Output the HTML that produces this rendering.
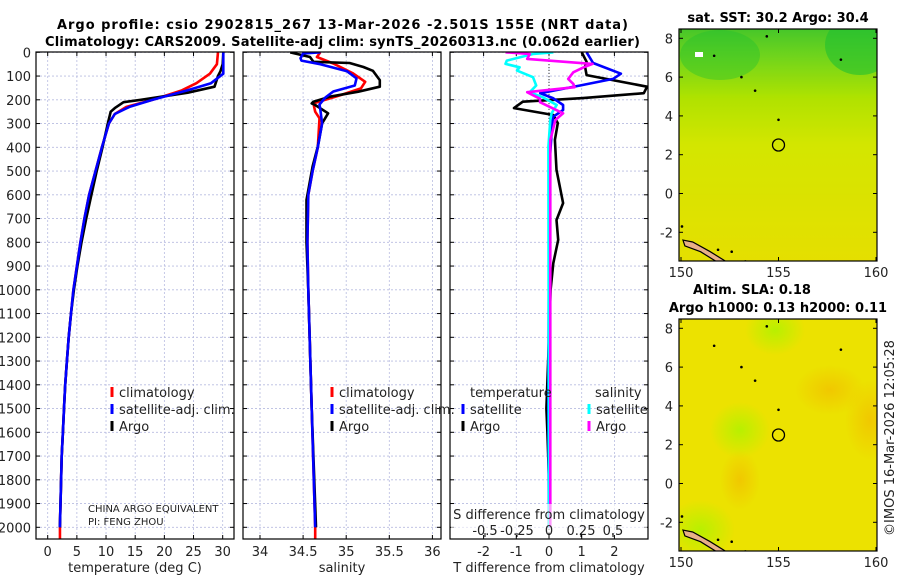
<!DOCTYPE html>
<html><head><meta charset="utf-8"><style>
html,body{margin:0;padding:0;background:#fff;}
svg{display:block;font-family:"DejaVu Sans","Liberation Sans",sans-serif;}
</style></head><body>
<svg id="fig" width="900" height="580" viewBox="0 0 900 580" xmlns="http://www.w3.org/2000/svg">
<defs>
<linearGradient id="sstGrad" x1="0" y1="0" x2="0" y2="1">
<stop offset="0" stop-color="#30c830"/><stop offset="0.12" stop-color="#60d820"/><stop offset="0.3" stop-color="#a8e800"/><stop offset="0.5" stop-color="#d0ec00"/><stop offset="1" stop-color="#e4e400"/>
</linearGradient>
<radialGradient id="slaGreen" cx="0.5" cy="0.5" r="0.5"><stop offset="0" stop-color="#b8f000"/><stop offset="1" stop-color="#b8f000" stop-opacity="0"/></radialGradient>
<radialGradient id="slaOrange" cx="0.5" cy="0.5" r="0.5"><stop offset="0" stop-color="#f0c800"/><stop offset="1" stop-color="#f0c800" stop-opacity="0"/></radialGradient>
<clipPath id="c1"><rect x="36" y="52" width="198" height="487"/></clipPath>
<clipPath id="c2"><rect x="243" y="52" width="198" height="487"/></clipPath>
<clipPath id="c3"><rect x="450" y="52" width="198" height="487"/></clipPath>
<clipPath id="m1"><rect x="679" y="29" width="198" height="232"/></clipPath>
<clipPath id="m2"><rect x="679" y="319" width="198" height="232"/></clipPath>
</defs>
<text x="57" y="29" textLength="571" lengthAdjust="spacing" font-size="13" font-weight="bold">Argo profile: csio 2902815_267 13-Mar-2026 -2.501S 155E (NRT data)</text>
<text x="45" y="46" textLength="595" lengthAdjust="spacing" font-size="13" font-weight="bold">Climatology: CARS2009. Satellite-adj clim: synTS_20260313.nc (0.062d earlier)</text>
<text x="778" y="22" text-anchor="middle" font-size="13" font-weight="bold">sat. SST: 30.2 Argo: 30.4</text>
<text x="752" y="294" text-anchor="middle" font-size="13" font-weight="bold">Altim. SLA: 0.18</text>
<text x="778" y="312" text-anchor="middle" font-size="13" font-weight="bold">Argo h1000: 0.13 h2000: 0.11</text>
<text transform="translate(894,438) rotate(-90)" text-anchor="middle" font-size="13" fill="#222">©IMOS 16-Mar-2026 12:05:28</text>
<g id="g"></g>
</svg>
<script>
// ---- data (depth in dbar) ----
const tDepth = [0,50,90,130,160,200,230,260,300,400,500,600,700,800,900,1000,1100,1200,1300,1400,1500,1600,1700,1800,1900,2000];
const tClim =  [29.2,29.0,27.8,25.5,23,18,13.5,11.5,10.5,9.3,8.2,7.1,6.3,5.6,5.0,4.4,4.0,3.6,3.3,3.0,2.8,2.6,2.4,2.3,2.2,2.1];
const tSat =   [30.1,30.1,30.1,28,24,18,14,11.5,10.5,9.3,8.2,7.1,6.3,5.6,5.0,4.4,4.0,3.6,3.3,3.0,2.8,2.6,2.4,2.3,2.2,2.1];
const argoTDepth = [0,50,80,100,145,170,200,210,235,250,300,400,500,600,700,800,900,1000,1100,1200,1300,1400,1500,1600,1700,1800,1900,2000];
const tArgo = [30.1,30.0,29.6,29.2,28.6,24,16,13,11.5,10.8,10.3,9.4,8.4,7.5,6.6,5.8,5.1,4.5,4.0,3.6,3.3,3.0,2.8,2.6,2.4,2.3,2.2,2.1];

const sClimDepth = [0,20,47,89,124,152,180,215,250,278,400,500,600,800,1000,1500,2000,2050];
const sClim = [34.70,34.66,34.85,35.08,35.22,35.17,34.94,34.62,34.64,34.69,34.67,34.61,34.56,34.55,34.56,34.60,34.64,34.64];
const sSatDepth = [0,5,25,35,50,80,110,140,165,190,220,240,300,400,500,600,800,1000,1500,2000];
const sSat = [34.70,34.50,34.47,34.48,34.70,35.01,35.12,35.10,34.85,34.76,34.69,34.70,34.72,34.67,34.61,34.56,34.55,34.56,34.60,34.64];
const sArgoDepth = [0,20,40,45,62,78,117,145,166,187,208,215,222,257,299,397,481,622,800,1000,1500,2000];
const sArgo = [34.35,34.58,34.62,35.04,35.20,35.31,35.39,35.39,35.14,34.81,34.62,34.60,34.64,34.79,34.72,34.67,34.61,34.54,34.54,34.56,34.60,34.65];

const dTSatDepth = [0,45,90,112,140,172,193,222,243,272,340,440,800,1500,2000];
const dTSat = [1.15,1.35,2.2,1.96,0.95,-0.27,0.12,0.43,0.43,0.12,0.08,0.03,0.0,-0.02,0.0];
const dTArgoDepth = [0,40,60,96,145,172,193,208,235,264,298,369,495,635,706,790,888,1000,1200,1500,1600,1800,2000];
const dTArgo = [1.0,1.15,1.1,1.15,3.0,2.9,1.04,-0.8,-1.07,0.13,0.27,0.18,0.23,0.43,0.23,0.28,0.13,0.05,0.0,-0.08,-0.05,0.0,0.0];
const dSSatDepth = [0,7,35,49,63,77,105,140,168,189,222,257,285,397,2000];
const dSSat = [0.034,-0.125,-0.33,-0.34,-0.23,-0.25,-0.125,-0.1,-0.15,-0.05,0.06,0.02,0.01,-0.005,0.0];
const dSArgoDepth = [0,7,28,49,63,84,112,133,147,168,196,210,257,285,370,2000];
const dSArgo = [-0.34,-0.15,-0.17,0.34,0.27,0.19,0.15,0.19,0.2,-0.17,-0.07,-0.07,0.11,0.05,0.01,0.01];

const depthTicks = [0,100,200,300,400,500,600,700,800,900,1000,1100,1200,1300,1400,1500,1600,1700,1800,1900,2000];
const tTicks = [0,5,10,15,20,25,30];
const sTicks = [34,34.5,35,35.5,36];
const sTickLabels = ["34","34.5","35","35.5","36"];
const dTTicks = [-2,-1,0,1,2];
const dSTicks = [-0.5,-0.25,0,0.25,0.5];
const dSTickLabels = ["-0.5","-0.25","0","0.25","0.5"];
const latTicks = [8,6,4,2,0,-2];
const lonTicks = [150,155,160];
const floatLon = 155.0, floatLat = 2.5;

// ---- axis functions ----
const yD = d => 52.3 + d*0.2375;
const xT = t => 47.7 + t*5.833;
const xS = s => 260 + (s-34)*86.2;
const xDT = v => 549 + v*32.7;
const xDS = v => 549 + v*128;
const mapX = lon => 681 + (lon-150)*19.5;
const map1Y = lat => 38.3 + (8-lat)*19.4;
const map2Y = lat => 328.3 + (8-lat)*19.4;

const NS="http://www.w3.org/2000/svg";
const G=document.getElementById('g');
function mk(tag,attrs,parent){const e=document.createElementNS(NS,tag);for(const k in attrs)e.setAttribute(k,attrs[k]);(parent||G).appendChild(e);return e;}
function txt(x,y,s,size,anchor,parent){const e=mk('text',{x:x,y:y,'font-size':size,'text-anchor':anchor||'start',fill:'#222'},parent);e.textContent=s;return e;}

const panels=[{x:36,w:198,clip:'c1',name:'temperature-panel'},{x:243,w:198,clip:'c2',name:'salinity-panel'},{x:450,w:198,clip:'c3',name:'difference-panel'}];
const pTop=52, pBot=539;
panels.forEach((p,i)=>{
  const g=mk('g',{});
  
  
  p.g=g;
  depthTicks.forEach(d=>{
    mk('line',{x1:p.x,x2:p.x+p.w,y1:yD(d),y2:yD(d),stroke:'#b8bce0','stroke-width':0.8,'stroke-dasharray':'2,2'},g);
    mk('line',{x1:p.x,x2:p.x+4,y1:yD(d),y2:yD(d),stroke:'#000'},g);
    mk('line',{x1:p.x+p.w-4,x2:p.x+p.w,y1:yD(d),y2:yD(d),stroke:'#000'},g);
  });
});
depthTicks.forEach(d=>{const e=txt(31,yD(d)+5,String(d),13,'end');
  
  });
function vgrid(p,xs){xs.forEach(x=>{mk('line',{x1:x,x2:x,y1:pTop,y2:pBot,stroke:'#b8bce0','stroke-width':0.8,'stroke-dasharray':'2,2'},p.g);
 mk('line',{x1:x,x2:x,y1:pBot-4,y2:pBot,stroke:'#000'},p.g);mk('line',{x1:x,x2:x,y1:pTop,y2:pTop+4,stroke:'#000'},p.g);});}
vgrid(panels[0],tTicks.map(xT));
tTicks.forEach(t=>{const e=txt(xT(t),556,String(t),13,'middle');});
vgrid(panels[1],sTicks.map(xS));
sTicks.forEach((s,i)=>{const e=txt(xS(s),556,sTickLabels[i],13,'middle');});
vgrid(panels[2],dTTicks.map(xDT));
dTTicks.forEach(t=>{const e=txt(xDT(t),556,String(t),13,'middle');});
mk('line',{x1:xDT(0),x2:xDT(0),y1:pTop,y2:pBot,stroke:'#333','stroke-width':1,'stroke-dasharray':'1,2'},panels[2].g);

let e;
e=txt(135,572,'temperature (deg C)',13,'middle');
e=txt(342,572,'salinity',13,'middle');
e=txt(549,572,'T difference from climatology',13,'middle');

function line(xs,ds,fx,color,clip,name,w){
  const pts=xs.map((v,i)=>fx(v).toFixed(1)+','+yD(ds[i]).toFixed(1)).join(' ');
  const el=mk('polyline',{points:pts,fill:'none',stroke:color,'stroke-width':w||2.6,'stroke-linejoin':'round','clip-path':'url(#'+clip+')'});
  
  
}
line(tClim,tDepth,xT,'#f00','c1','temperature-climatology-line');
mk('line',{x1:xT(tClim[tClim.length-1]),x2:xT(tClim[tClim.length-1]),y1:yD(2000),y2:pBot,stroke:'#f00','stroke-width':2.6});
line(tArgo,argoTDepth,xT,'#000','c1','temperature-argo-line');
line(tSat,tDepth,xT,'#00f','c1','temperature-satellite-line');
line(sClim,sClimDepth,xS,'#f00','c2','salinity-climatology-line');
line(sArgo,sArgoDepth,xS,'#000','c2','salinity-argo-line');
line(sSat,sSatDepth,xS,'#00f','c2','salinity-satellite-line');
line(dTArgo,dTArgoDepth,xDT,'#000','c3','t-diff-argo-line');
line(dTSat,dTSatDepth,xDT,'#00f','c3','t-diff-satellite-line');
line(dSSat,dSSatDepth,xDS,'#0ff','c3','s-diff-satellite-line');
line(dSArgo,dSArgoDepth,xDS,'#f0f','c3','s-diff-argo-line');

mk('rect',{x:451,y:504,width:196,height:30,fill:'#fff','fill-opacity':0.6});
e=txt(549,519,'S difference from climatology',13,'middle');
dSTicks.forEach((s,i)=>{const t=txt(xDS(s),535,dSTickLabels[i],13,'middle');});
dSTicks.forEach(s=>mk('line',{x1:xDS(s),x2:xDS(s),y1:pBot-6,y2:pBot-2,stroke:'#000'}));

panels.forEach(p=>mk('rect',{x:p.x,y:pTop,width:p.w,height:pBot-pTop,fill:'none',stroke:'#000','stroke-width':1.2}));

function legend(x,y,color,label,name){
  mk('rect',{x:x-1.5,y:y-10,width:3,height:10,fill:color});
  const t=txt(x+7,y,label,13,'start');
  
  
}
legend(112,397,'#f00','climatology','legend-climatology-t');
legend(112,414,'#00f','satellite-adj. clim.','legend-satellite-t');
legend(112,431,'#000','Argo','legend-argo-t');
legend(332,397,'#f00','climatology','legend-climatology-s');
legend(332,414,'#00f','satellite-adj. clim.','legend-satellite-s');
legend(332,431,'#000','Argo','legend-argo-s');
e=txt(470,397,'temperature',13,'start');
legend(463,414,'#00f','satellite','legend-t-diff-satellite');
legend(463,431,'#000','Argo','legend-t-diff-argo');
e=txt(595,397,'salinity',13,'start');
legend(589,414,'#0ff','satellite','legend-s-diff-satellite');
legend(589,431,'#f0f','Argo','legend-s-diff-argo');
e=txt(88,512,'CHINA ARGO EQUIVALENT',10,'start');
e=txt(88,525,'PI: FENG ZHOU',10,'start');

// ---- maps ----
function coast(fy,clip){
  const g=mk('g',{'clip-path':'url(#'+clip+')'});
  mk('path',{d:`M${mapX(150.1)},${fy(-2.4)} L${mapX(150.6)},${fy(-2.5)} L${mapX(151.5)},${fy(-3.0)} L${mapX(152.3)},${fy(-3.5)} L${mapX(151.8)},${fy(-3.5)} L${mapX(151.0)},${fy(-3.0)} L${mapX(150.2)},${fy(-2.7)} Z`,fill:'#e8b088',stroke:'#000','stroke-width':1.2},g);
  [[150.05,-1.7],[151.9,-2.9],[152.6,-3.0],[153.3,-3.5],[158.2,6.9],[151.7,7.1],[153.8,5.3],[154.4,8.1],[155.0,3.8],[153.1,6.0]].forEach(p=>mk('circle',{cx:mapX(p[0]),cy:fy(p[1]),r:1.3,fill:'#000'},g));
}
function mapAxes(fy,yTop,yBot,name){
  const g=mk('g',{});
  
  
  mk('rect',{x:679,y:yTop,width:198,height:yBot-yTop,fill:'none',stroke:'#000','stroke-width':1.2},g);
  latTicks.forEach(l=>{mk('line',{x1:679,x2:683,y1:fy(l),y2:fy(l),stroke:'#000'},g);mk('line',{x1:873,x2:877,y1:fy(l),y2:fy(l),stroke:'#000'},g);
    txt(673,fy(l)+5,String(l),13,'end',g);});
  lonTicks.forEach(l=>{mk('line',{x1:mapX(l),x2:mapX(l),y1:yBot-4,y2:yBot,stroke:'#000'},g);mk('line',{x1:mapX(l),x2:mapX(l),y1:yTop,y2:yTop+4,stroke:'#000'},g);
    txt(mapX(l),yBot+16,String(l),13,'middle',g);});
  mk('circle',{cx:mapX(floatLon),cy:fy(floatLat),r:6,fill:'none',stroke:'#000','stroke-width':1.3},g);
}
const sst=mk('g',{'clip-path':'url(#m1)'});


mk('rect',{x:679,y:29,width:198,height:232,fill:'url(#sstGrad)'},sst);
mk('rect',{x:679,y:29,width:198,height:232,fill:'#f0c000','fill-opacity':0.12},sst);
mk('ellipse',{cx:860,cy:45,rx:35,ry:30,fill:'#20c030','fill-opacity':0.6},sst);
mk('ellipse',{cx:720,cy:55,rx:40,ry:25,fill:'#20c030','fill-opacity':0.4},sst);
mk('rect',{x:695,y:52,width:8,height:5,fill:'#fff'},sst);
coast(map1Y,'m1');
mapAxes(map1Y,29,261,'sst-map-axes');
const sla=mk('g',{'clip-path':'url(#m2)'});


mk('rect',{x:679,y:319,width:198,height:232,fill:'#ece200'},sla);
mk('ellipse',{cx:740,cy:430,rx:30,ry:28,fill:'url(#slaGreen)'},sla);
mk('ellipse',{cx:700,cy:530,rx:35,ry:30,fill:'url(#slaGreen)'},sla);
mk('ellipse',{cx:775,cy:330,rx:30,ry:25,fill:'url(#slaGreen)'},sla);
mk('ellipse',{cx:830,cy:390,rx:35,ry:25,fill:'url(#slaOrange)'},sla);
mk('ellipse',{cx:870,cy:420,rx:25,ry:40,fill:'url(#slaOrange)'},sla);
mk('ellipse',{cx:740,cy:480,rx:20,ry:30,fill:'url(#slaOrange)'},sla);
coast(map2Y,'m2');
mapAxes(map2Y,319,551,'sla-map-axes');
</script>
</body></html>
